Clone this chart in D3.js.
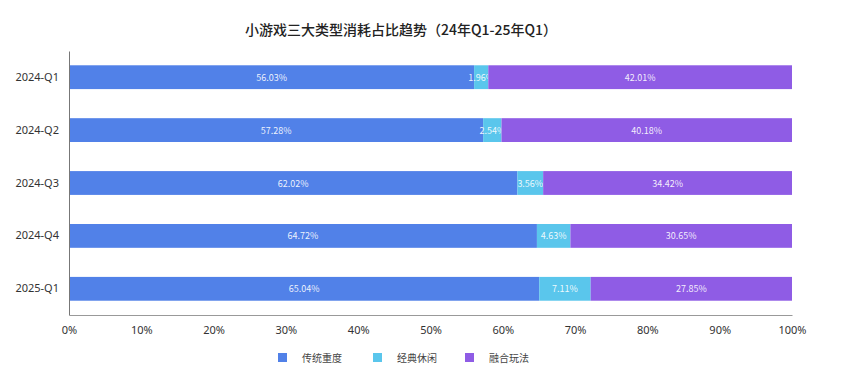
<!DOCTYPE html>
<html>
<head>
    <meta charset="utf-8">
    <script src="https://d3js.org/d3.v7.min.js"></script>
    <style>
        body { margin: 0; background: #fff; }
        text { font-family: "Noto Sans CJK SC", "Noto Sans", sans-serif; }
    </style>
</head>
<body>
    <script>
        var categories = ["2024-Q1", "2024-Q2", "2024-Q3", "2024-Q4", "2025-Q1"];
        var seriesNames = ["传统重度", "经典休闲", "融合玩法"];
        var traditional = [56.03, 57.28, 62.02, 64.72, 65.04];
        var casual = [1.96, 2.54, 3.56, 4.63, 7.11];
        var hybrid = [42.01, 40.18, 34.42, 30.65, 27.85];
        var xTicks = [0, 10, 20, 30, 40, 50, 60, 70, 80, 90, 100];
        var colors = ["#5181e8", "#5ac6ec", "#8f5ce5"];

        var width = 847, height = 387;
        var margin = {top: 51, right: 55, bottom: 72, left: 69};

        var svg = d3.select("body").append("svg")
            .attr("width", width)
            .attr("height", height);

        svg.append("text")
            .attr("x", 401)
            .attr("y", 35)
            .attr("text-anchor", "middle")
            .style("font-size", "14px")
            .style("font-weight", "500")
            .style("fill", "#222")
            .text("小游戏三大类型消耗占比趋势（24年Q1-25年Q1）");

        var rows = categories.map(function(c, i) {
            return {cat: c, "传统重度": traditional[i], "经典休闲": casual[i], "融合玩法": hybrid[i]};
        });

        var x = d3.scaleLinear().domain([0, 100]).range([margin.left, width - margin.right]);
        var y = d3.scaleBand().domain(categories)
            .range([margin.top, height - margin.bottom])
            .paddingInner(0.55).paddingOuter(0.27);

        var stack = d3.stack().keys(seriesNames)(rows);

        var g = svg.append("g");
        g.selectAll("g.series")
            .data(stack)
            .enter().append("g")
            .attr("class", "series")
            .each(function(s, si) {
                var grp = d3.select(this);
                grp.selectAll("rect")
                    .data(s)
                    .enter().append("rect")
                    .attr("x", d => x(d[0]))
                    .attr("y", d => y(d.data.cat))
                    .attr("width", d => x(d[1]) - x(d[0]))
                    .attr("height", y.bandwidth())
                    .style("fill", colors[si]);
                grp.selectAll("text")
                    .data(s)
                    .enter().append("text")
                    .attr("x", d => (x(d[0]) + x(d[1])) / 2)
                    .attr("y", d => y(d.data.cat) + y.bandwidth() / 2 + 3.5)
                    .attr("text-anchor", "middle")
                    .style("font-size", "9px")
                    .style("fill", "#fff")
                    .style("fill-opacity", 0.9)
                    .text(d => (d[1] - d[0]).toFixed(2) + "%");
            });

        // left axis
        var yAxis = svg.append("g")
            .attr("transform", "translate(" + margin.left + ",0)")
            .call(d3.axisLeft(y).tickSize(0).tickPadding(10));
        yAxis.select(".domain").attr("stroke", "#777");
        yAxis.selectAll("text").style("font-size", "11px").style("fill", "#333")
            .style("font-family", "'Noto Sans', sans-serif");

        // bottom axis
        var xAxis = svg.append("g")
            .attr("transform", "translate(0," + (height - margin.bottom) + ")")
            .call(d3.axisBottom(x).tickValues(xTicks).tickSize(0).tickPadding(11)
                .tickFormat(d => d + "%"));
        xAxis.select(".domain").attr("stroke", "#999");
        xAxis.selectAll("text").style("font-size", "11px").style("fill", "#333")
            .style("font-family", "'Noto Sans', sans-serif");

        // legend
        var legendX = [278, 373, 465];
        var legend = svg.append("g");
        seriesNames.forEach(function(name, i) {
            legend.append("rect")
                .attr("x", legendX[i])
                .attr("y", 353)
                .attr("width", 9)
                .attr("height", 9)
                .style("fill", colors[i]);
            legend.append("text")
                .attr("x", legendX[i] + 24)
                .attr("y", 361.5)
                .style("font-size", "10px")
                .style("fill", "#444")
                .text(name);
        });
    </script>
</body>
</html>
